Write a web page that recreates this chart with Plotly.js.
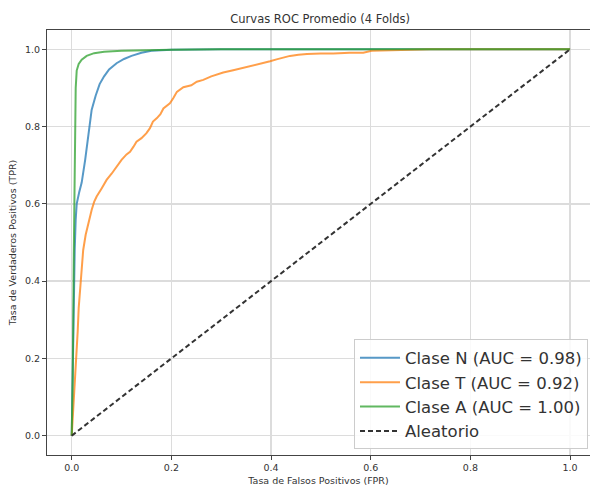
<!DOCTYPE html>
<html>
<head>
<meta charset="utf-8">
<script src="https://cdn.plot.ly/plotly-3.0.1.min.js"></script>
<style>html,body{margin:0;padding:0;background:#fff;}#chart{width:590px;height:491px;}</style>
</head>
<body>
<div id="chart"></div>
<script>
const chartTitle = "Curvas ROC Promedio (4 Folds)";
const xLabel = "Tasa de Falsos Positivos (FPR)";
const yLabel = "Tasa de Verdaderos Positivos (TPR)";
const tickVals = [0, 0.2, 0.4, 0.6, 0.8, 1.0];
const tickText = ["0.0", "0.2", "0.4", "0.6", "0.8", "1.0"];

const seriesNames = ["Clase N (AUC = 0.98)", "Clase T (AUC = 0.92)", "Clase A (AUC = 1.00)", "Aleatorio"];

const fprN = [0, 0.002, 0.004, 0.006, 0.008, 0.010, 0.015, 0.020, 0.027, 0.033, 0.040, 0.048, 0.056, 0.065, 0.075, 0.090, 0.105, 0.120, 0.140, 0.160, 0.180, 0.20, 0.25, 0.30, 1.0];
const tprN = [0, 0.18, 0.35, 0.48, 0.56, 0.60, 0.63, 0.655, 0.714, 0.78, 0.843, 0.88, 0.91, 0.93, 0.948, 0.964, 0.975, 0.983, 0.991, 0.996, 0.998, 0.999, 0.9995, 1.0, 1.0];

const fprT = [0, 0.004, 0.008, 0.010, 0.012, 0.014, 0.018, 0.023, 0.028, 0.033, 0.040, 0.045, 0.050, 0.060, 0.070, 0.080, 0.090, 0.100, 0.110, 0.117, 0.124, 0.130, 0.140, 0.150, 0.157, 0.163, 0.171, 0.178, 0.184, 0.190, 0.197, 0.204, 0.211, 0.224, 0.240, 0.251, 0.264, 0.280, 0.291, 0.304, 0.324, 0.340, 0.358, 0.372, 0.385, 0.398, 0.411, 0.425, 0.438, 0.455, 0.472, 0.500, 0.525, 0.558, 0.585, 0.602, 0.639, 0.680, 0.710, 0.720, 1.0];
const tprT = [0, 0.09, 0.17, 0.20, 0.27, 0.33, 0.41, 0.48, 0.52, 0.55, 0.584, 0.605, 0.619, 0.640, 0.662, 0.678, 0.696, 0.714, 0.728, 0.735, 0.748, 0.761, 0.770, 0.783, 0.796, 0.813, 0.822, 0.832, 0.847, 0.853, 0.860, 0.874, 0.890, 0.902, 0.907, 0.916, 0.921, 0.930, 0.935, 0.940, 0.946, 0.951, 0.955, 0.960, 0.965, 0.969, 0.974, 0.979, 0.983, 0.986, 0.988, 0.989, 0.989, 0.991, 0.991, 0.996, 0.997, 0.998, 0.999, 1.0, 1.0];

const fprA = [0, 0.002, 0.004, 0.006, 0.008, 0.010, 0.014, 0.020, 0.030, 0.045, 0.065, 0.10, 0.15, 0.20, 0.30, 0.50, 1.0];
const tprA = [0, 0.15, 0.45, 0.75, 0.90, 0.945, 0.962, 0.973, 0.983, 0.990, 0.994, 0.996, 0.998, 0.999, 1.0, 1.0, 1.0];

const fprRand = [0, 1];
const tprRand = [0, 1];

const colors = ["#1f77b4", "#ff7f0e", "#2ca02c", "#333333"];

const traces = [
  {x: fprN, y: tprN, name: seriesNames[0], mode: "lines", line: {color: colors[0], width: 2}, opacity: 0.75},
  {x: fprT, y: tprT, name: seriesNames[1], mode: "lines", line: {color: colors[1], width: 2}, opacity: 0.75},
  {x: fprA, y: tprA, name: seriesNames[2], mode: "lines", line: {color: colors[2], width: 2}, opacity: 0.75},
  {x: fprRand, y: tprRand, name: seriesNames[3], mode: "lines", line: {color: colors[3], width: 2, dash: "5px,3px"}}
];

const font = "DejaVu Sans, sans-serif";
const layout = {
  width: 590, height: 491,
  margin: {l: 47, r: 0, t: 30, b: 36},
  paper_bgcolor: "#ffffff", plot_bgcolor: "#ffffff",
  font: {family: font, color: "#333333", size: 10},
  showlegend: true,
  title: {text: chartTitle, font: {family: font, size: 11.5, color: "#333333"}, x: 0.503, xref: "paper", y: 0.962, yanchor: "middle", xanchor: "center"},
  xaxis: {
    range: [-0.0496, 1.040], tickvals: tickVals, ticktext: tickText,
    showgrid: true, gridcolor: "#dcdcdc", gridwidth: 1.3, zeroline: false,
    showline: true, linecolor: "#444444", linewidth: 1, mirror: true,
    ticks: "outside", ticklen: 4, tickcolor: "#444444",
    tickfont: {family: font, size: 9.5, color: "#333333"},
    title: {text: xLabel, font: {family: font, size: 9.5, color: "#333333"}, standoff: 4},
    automargin: false
  },
  yaxis: {
    range: [-0.05, 1.05], tickvals: tickVals, ticktext: tickText,
    showgrid: true, gridcolor: "#dcdcdc", gridwidth: 1.3, zeroline: false,
    showline: true, linecolor: "#444444", linewidth: 1, mirror: false,
    ticks: "outside", ticklen: 4, tickcolor: "#444444",
    tickfont: {family: font, size: 9.5, color: "#333333"},
    title: {text: yLabel, font: {family: font, size: 9.5, color: "#333333"}, standoff: 6},
    automargin: false
  },
  legend: {
    x: 0.9963, y: 0.013, xanchor: "right", yanchor: "bottom",
    bgcolor: "rgba(255,255,255,0.85)", bordercolor: "#cccccc", borderwidth: 1,
    font: {family: font, size: 16.5, color: "#333333"},
    itemwidth: 40,
    traceorder: "normal"
  }
};

Plotly.newPlot("chart", traces, layout, {displayModeBar: false, staticPlot: true});
</script>
</body>
</html>
